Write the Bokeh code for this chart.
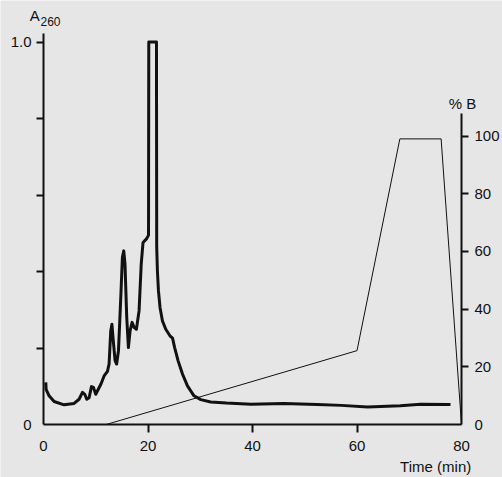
from bokeh.plotting import figure
from bokeh.models import Range1d, LinearAxis, FixedTicker, Label, CustomJSTickFormatter
from bokeh.embed import file_html
from bokeh.resources import INLINE

# Absorbance trace (A260) vs time (min)
time_min = [0.44, 0.5, 1.07, 2.03, 3.94, 5.85, 6.81, 7.46, 7.9, 8.28, 8.73, 9.18, 9.56, 10.0,
            11.0, 11.6, 12.24, 12.55, 12.87, 13.1, 13.3, 13.7, 14.0, 14.35, 14.79, 15.1,
            15.36, 15.6, 15.93, 16.25, 16.57, 16.95, 17.33, 17.78, 18.29, 18.7, 19.05,
            19.75, 20.1, 20.15, 21.62, 21.67, 21.8, 22.0, 22.3, 22.76, 23.4, 24.2, 24.7,
            25.1, 25.75, 26.6, 27.55, 28.8, 30.1, 32.0, 35.0, 39.7, 46.0, 52.4, 57.0,
            62.0, 68.3, 72.2, 77.9]
a260 = [0.110, 0.092, 0.075, 0.060, 0.0515, 0.055, 0.066, 0.084, 0.079, 0.066, 0.070,
        0.099, 0.097, 0.079, 0.106, 0.127, 0.139, 0.158, 0.245, 0.262, 0.228, 0.167,
        0.158, 0.193, 0.332, 0.437, 0.454, 0.419, 0.280, 0.201, 0.245, 0.267, 0.254,
        0.249, 0.297, 0.419, 0.476, 0.486, 0.495, 1.0, 1.0, 0.463, 0.402, 0.350, 0.306,
        0.271, 0.249, 0.232, 0.226, 0.201, 0.167, 0.132, 0.101, 0.075, 0.065, 0.059,
        0.056, 0.053, 0.055, 0.052, 0.050, 0.046, 0.049, 0.053, 0.052]

# Gradient (% B) vs time (min)
grad_time = [12.0, 60.0, 68.2, 76.1, 80.0]
grad_pct = [0.0, 25.6, 99.0, 99.0, 0.0]

x_ticks = [0, 20, 40, 60, 80]
x_minor = [20, 40, 60]
a_ticks = [0, 1.0]
a_minor = [0.2, 0.4, 0.6, 0.8, 1.0]
b_ticks = [0, 20, 40, 60, 80, 100]
b_minor = [20, 40, 60, 80, 100]

BG = "#e6e6e6"
FONT = "Liberation Sans"
INK = "#111111"
FS = "15px"

W, H = 502, 477
LEFT, RIGHT, TOP, BOTTOM = 43, 461, 41.5, 424   # pixel positions of x=0, x=80, A=1.0, A=0
sx = (RIGHT - LEFT) / 80.0
sy = (BOTTOM - TOP) / 1.0
sp = (BOTTOM - 135.5) / 100.0

p = figure(width=W, height=H, output_backend="svg", toolbar_location=None,
           x_range=Range1d(-LEFT / sx, 80 + (W - RIGHT) / sx),
           y_range=Range1d(-(H - BOTTOM) / sy, BOTTOM / sy),
           x_axis_location=None, y_axis_location=None,
           min_border=0,
           background_fill_color=BG, border_fill_color=BG, outline_line_color=None)
p.xgrid.visible = False
p.ygrid.visible = False
p.extra_y_ranges = {"pct": Range1d(-(H - BOTTOM) / sp, BOTTOM / sp)}


def style(ax, standoff):
    ax.axis_line_width = 2
    ax.axis_line_color = INK
    ax.major_tick_out = 0
    ax.major_tick_in = 0
    ax.minor_tick_in = 0
    ax.minor_tick_line_width = 2
    ax.minor_tick_line_color = INK
    ax.major_label_text_font = FONT
    ax.major_label_text_font_size = FS
    ax.major_label_text_color = INK
    ax.major_label_standoff = standoff


xaxis = LinearAxis(ticker=FixedTicker(ticks=x_ticks, minor_ticks=x_minor),
                   fixed_location=0, bounds=(0, 80))
style(xaxis, 8)
xaxis.minor_tick_out = 8
p.add_layout(xaxis, "below")

yaxis = LinearAxis(ticker=FixedTicker(ticks=a_ticks, minor_ticks=a_minor),
                   formatter=CustomJSTickFormatter(code="return tick < 0.5 ? '0' : '1.0';"),
                   fixed_location=0, bounds=(0, (BOTTOM - 33) / sy))
style(yaxis, 5)
yaxis.minor_tick_out = 7
p.add_layout(yaxis, "left")

raxis = LinearAxis(y_range_name="pct", ticker=FixedTicker(ticks=b_ticks, minor_ticks=b_minor),
                   fixed_location=80, bounds=(0, 107.7))
style(raxis, 6)
raxis.minor_tick_out = 7
p.add_layout(raxis, "right")

p.line(grad_time, grad_pct, y_range_name="pct", line_width=1, line_color=INK)
p.line(time_min, a260, line_width=3, line_color=INK, line_join="round")

p.add_layout(Label(x=-1.665, y=1.0693, text="A", text_font=FONT, text_font_size=FS,
                   text_color=INK, text_align="center", text_baseline="middle"))
p.add_layout(Label(x=-0.574, y=1.0544, text="260", text_font=FONT, text_font_size="12px",
                   text_color=INK, text_align="left", text_baseline="middle"))
p.add_layout(Label(x=80.19, y=111.4, y_range_name="pct", text="% B", text_font=FONT,
                   text_font_size=FS, text_color=INK, text_align="center",
                   text_baseline="middle"))
p.add_layout(Label(x=81.86, y=-0.1111, text="Time (min)", text_font=FONT,
                   text_font_size=FS, text_color=INK, text_align="right",
                   text_baseline="middle"))

open("out.html", "w").write(file_html(p, INLINE))
